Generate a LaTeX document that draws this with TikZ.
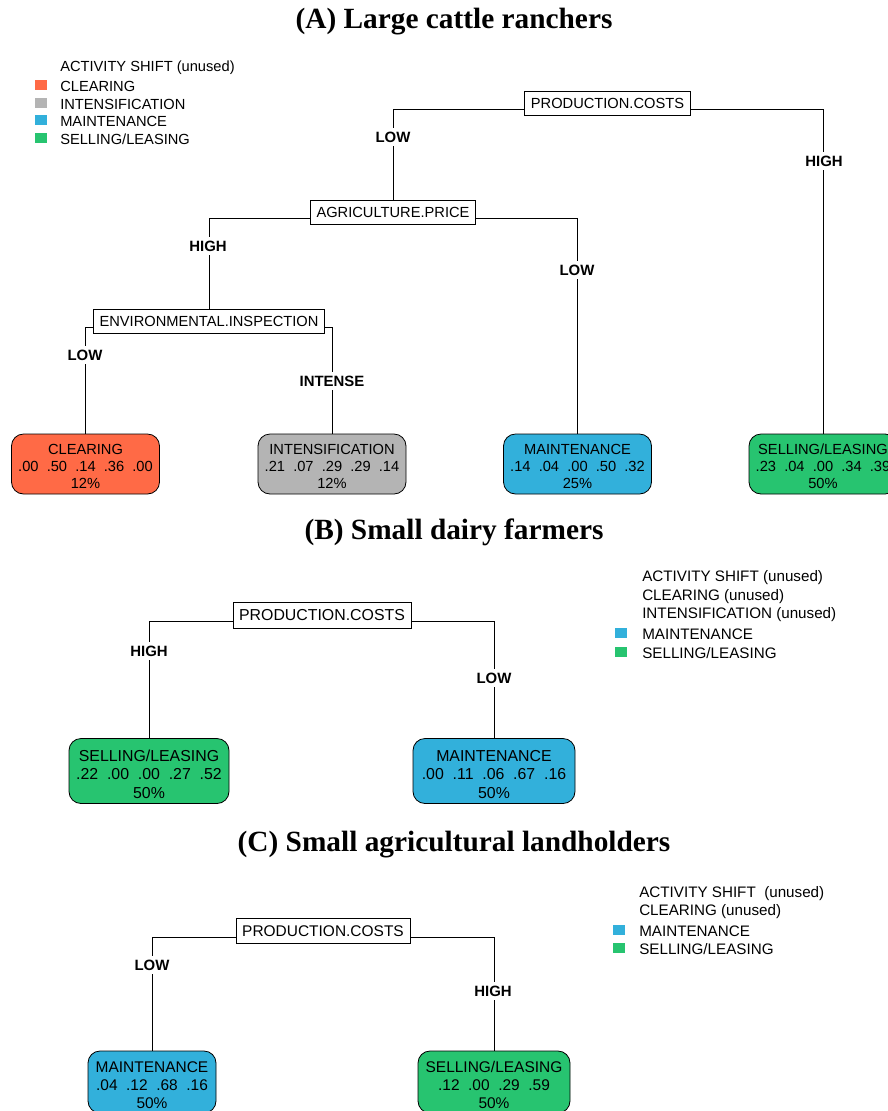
\documentclass[tikz,border=0pt]{standalone}
\usepackage{fontspec}
\setmainfont{Liberation Sans}
\newfontfamily\titlefont{Liberation Serif}
\usetikzlibrary{backgrounds}
\definecolor{cclear}{RGB}{255,106,70}
\definecolor{cint}{RGB}{180,180,180}
\definecolor{cmaint}{RGB}{50,176,219}
\definecolor{csell}{RGB}{39,196,112}
\newcommand\leafstrut[1]{\rule{0pt}{#1}}
\tikzset{
  fA/.style={font=\fontsize{11}{12.75}\selectfont},
  fB/.style={font=\fontsize{11.9}{13.9}\selectfont},
  fC/.style={font=\fontsize{11.6}{13.5}\selectfont},
  split/.style={draw, fill=white, line width=0.6pt, inner ysep=0pt, inner xsep=4.6pt, text height=8.3pt, text depth=0pt},
  br/.style={fill=white, inner sep=2.5pt, font=\fontsize{11.2}{13}\selectfont\bfseries},
  leaf/.style 2 args={draw, line width=0.6pt, rounded corners=9pt, fill=#1, minimum width=#2, inner sep=0pt, align=center},
  conn/.style={line width=0.6pt},
  ttl/.style={inner sep=0pt, font=\titlefont\fontsize{22}{25}\selectfont\bfseries},
  legsq/.style={minimum width=8.5pt, minimum height=7.5pt, inner sep=0pt, fill=#1},
  legtxt/.style={anchor=west, inner sep=0pt},
}
\begin{document}
\begin{tikzpicture}[x=0.75pt, y=-0.75pt]
\clip (0,0) rectangle (888,1111);
% ---------------- (A) ----------------
\node[ttl] (tA) at (454,22) {(A) Large cattle ranchers};
\begin{scope}[every node/.append style={fA}]
\node[legtxt] (lA0) at (60,68) {ACTIVITY SHIFT (unused)};
\node[legtxt] (lA1) at (60,86) {CLEARING};
\node[legtxt] (lA2) at (60,104) {INTENSIFICATION};
\node[legtxt] (lA3) at (60,121) {MAINTENANCE};
\node[legtxt] (lA4) at (60,139) {SELLING/LEASING};
\end{scope}
\node[legsq=cclear] (sA1) at (41,85) {};
\node[legsq=cint] (sA2) at (41,103) {};
\node[legsq=cmaint] (sA3) at (41,120) {};
\node[legsq=csell] (sA4) at (41,138) {};

\node[split, fA, minimum height=18pt] (PA) at (607.5,103) {PRODUCTION.COSTS};
\node[split, fA, minimum height=18pt] (AG) at (393,212) {AGRICULTURE.PRICE};
\node[split, fA, minimum height=18pt] (EN) at (209,321) {ENVIRONMENTAL.INSPECTION};

\node[leaf={cclear}{111pt}, fA, minimum height=45pt] (A1) at (85.5,464) {\leafstrut{12pt}CLEARING\\.00~~.50~~.14~~.36~~.00\\12\%};
\node[leaf={cint}{111pt}, fA, minimum height=45pt] (A2) at (332,464) {\leafstrut{12pt}INTENSIFICATION\\.21~~.07~~.29~~.29~~.14\\12\%};
\node[leaf={cmaint}{111pt}, fA, minimum height=45pt] (A3) at (577.5,464) {\leafstrut{12pt}MAINTENANCE\\.14~~.04~~.00~~.50~~.32\\25\%};
\node[leaf={csell}{111pt}, fA, minimum height=45pt] (A4) at (823,464) {\leafstrut{12pt}SELLING/LEASING\\.23~~.04~~.00~~.34~~.39\\50\%};

\node[br] (bA1) at (393,137) {LOW};
\node[br] (bA2) at (824,161) {HIGH};
\node[br] (bA3) at (208,246) {HIGH};
\node[br] (bA4) at (577,270) {LOW};
\node[br] (bA5) at (85,355) {LOW};
\node[br] (bA6) at (332,381) {INTENSE};

% ---------------- (B) ----------------
\node[ttl] (tB) at (454,532) {(B) Small dairy farmers};
\begin{scope}[every node/.append style={font=\fontsize{11.4}{13}\selectfont}]
\node[legtxt] (lB0) at (642,578) {ACTIVITY SHIFT (unused)};
\node[legtxt] (lB1) at (642,597) {CLEARING (unused)};
\node[legtxt] (lB2) at (642,615) {INTENSIFICATION (unused)};
\node[legtxt] (lB3) at (642,634) {MAINTENANCE};
\node[legtxt] (lB4) at (642,653) {SELLING/LEASING};
\end{scope}
\node[legsq=cmaint] (sB3) at (621,633) {};
\node[legsq=csell] (sB4) at (621,652) {};

\node[split, fB, minimum height=19.5pt] (PB) at (322,615) {PRODUCTION.COSTS};
\node[leaf={csell}{120pt}, fB, minimum height=48.75pt] (B1) at (149,771) {\leafstrut{13.5pt}SELLING/LEASING\\.22~~.00~~.00~~.27~~.52\\50\%};
\node[leaf={cmaint}{121.5pt}, fB, minimum height=48.75pt] (B2) at (494,771) {\leafstrut{13.5pt}MAINTENANCE\\.00~~.11~~.06~~.67~~.16\\50\%};
\node[br] (bB1) at (149,651) {HIGH};
\node[br] (bB2) at (494,678) {LOW};

% ---------------- (C) ----------------
\node[ttl] (tC) at (454,845) {(C) Small agricultural landholders};
\begin{scope}[every node/.append style={font=\fontsize{11.4}{13}\selectfont}]
\node[legtxt] (lC0) at (639,894) {ACTIVITY SHIFT~~(unused)};
\node[legtxt] (lC1) at (639,912) {CLEARING (unused)};
\node[legtxt] (lC2) at (639,931) {MAINTENANCE};
\node[legtxt] (lC3) at (639,949) {SELLING/LEASING};
\end{scope}
\node[legsq=cmaint] (sC2) at (619,930) {};
\node[legsq=csell] (sC3) at (619,948) {};

\node[split, fC, minimum height=18.75pt] (PC) at (323,931) {PRODUCTION.COSTS};
\node[leaf={cmaint}{96pt}, fC, minimum height=46.5pt] (C1) at (152,1082) {\leafstrut{13pt}MAINTENANCE\\.04~~.12~~.68~~.16\\50\%};
\node[leaf={csell}{114pt}, fC, minimum height=46.5pt] (C2) at (494,1082) {\leafstrut{13pt}SELLING/LEASING\\.12~~.00~~.29~~.59\\50\%};
\node[br] (bC1) at (152,965) {LOW};
\node[br] (bC2) at (493,991) {HIGH};

% ---------------- connectors ----------------
\begin{pgfonlayer}{background}
\draw[conn] ([yshift=-4.5pt]PA.center) -| (AG.north);
\draw[conn] ([yshift=-4.5pt]PA.center) -| (A4.north);
\draw[conn] ([yshift=-4.5pt]AG.center) -| (EN.north);
\draw[conn] ([yshift=-4.5pt]AG.center) -| (A3.north);
\draw[conn] ([yshift=-4.5pt]EN.center) -| (A1.north);
\draw[conn] ([yshift=-4.5pt]EN.center) -| (A2.north);
\draw[conn] ([yshift=-5pt]PB.center) -| (B1.north);
\draw[conn] ([yshift=-5pt]PB.center) -| (B2.north);
\draw[conn] ([yshift=-4.5pt]PC.center) -| (C1.north);
\draw[conn] ([yshift=-4.5pt]PC.center) -| (C2.north);
\end{pgfonlayer}
\end{tikzpicture}
\end{document}
